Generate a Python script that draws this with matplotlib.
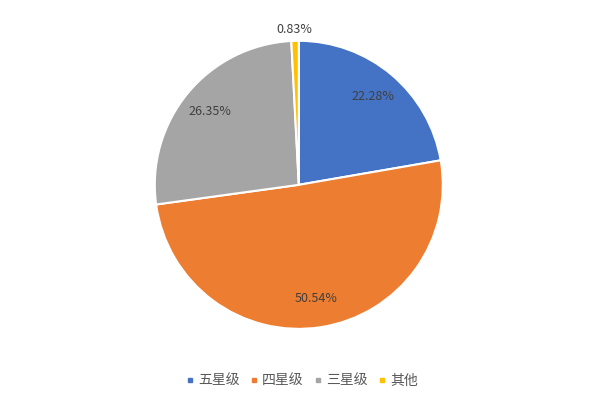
import numpy as np
import matplotlib
matplotlib.use("Agg")
import matplotlib.pyplot as plt
from matplotlib.lines import Line2D

plt.rcParams['font.family'] = ['Noto Sans CJK SC', 'DejaVu Sans']

# données
categories = ["五星级", "四星级", "三星级", "其他"]
shares = [22.28, 50.54, 26.35, 0.83]
colors = ["#4472C4", "#ED7D31", "#A5A5A5", "#FFC000"]

fig = plt.figure(figsize=(6, 4.04), dpi=100)
ax = fig.add_axes([0.258, 0.186, 0.48, 0.713])

wedges, texts, autotexts = ax.pie(
    shares, colors=colors, startangle=90, counterclock=False,
    autopct=lambda p: f"{p:.2f}%", pctdistance=0.8,
    wedgeprops=dict(edgecolor="white", linewidth=1.5),
    textprops=dict(color="#404040", fontsize=9),
)
# étiquettes avec les valeurs exactes
for t, v in zip(autotexts, shares):
    t.set_text(f"{v:.2f}%")

# petite part : étiquette à l'extérieur
w = wedges[-1]
ang = np.deg2rad((w.theta1 + w.theta2) / 2)
autotexts[-1].set_position((1.08 * np.cos(ang), 1.08 * np.sin(ang)))

ax.set_xlim(-1, 1)
ax.set_ylim(-1, 1)
ax.set_aspect("auto")

handles = [Line2D([], [], marker="s", linestyle="", markersize=3.5,
                  markerfacecolor=c, markeredgecolor=c) for c in colors]
fig.legend(handles, categories, loc="center", bbox_to_anchor=(0.503, 0.057),
           ncol=4, frameon=False, fontsize=10, handlelength=0.6,
           handletextpad=0.3, columnspacing=0.7, labelcolor="#595959")

fig.savefig("out.png", dpi=100, facecolor="white")
